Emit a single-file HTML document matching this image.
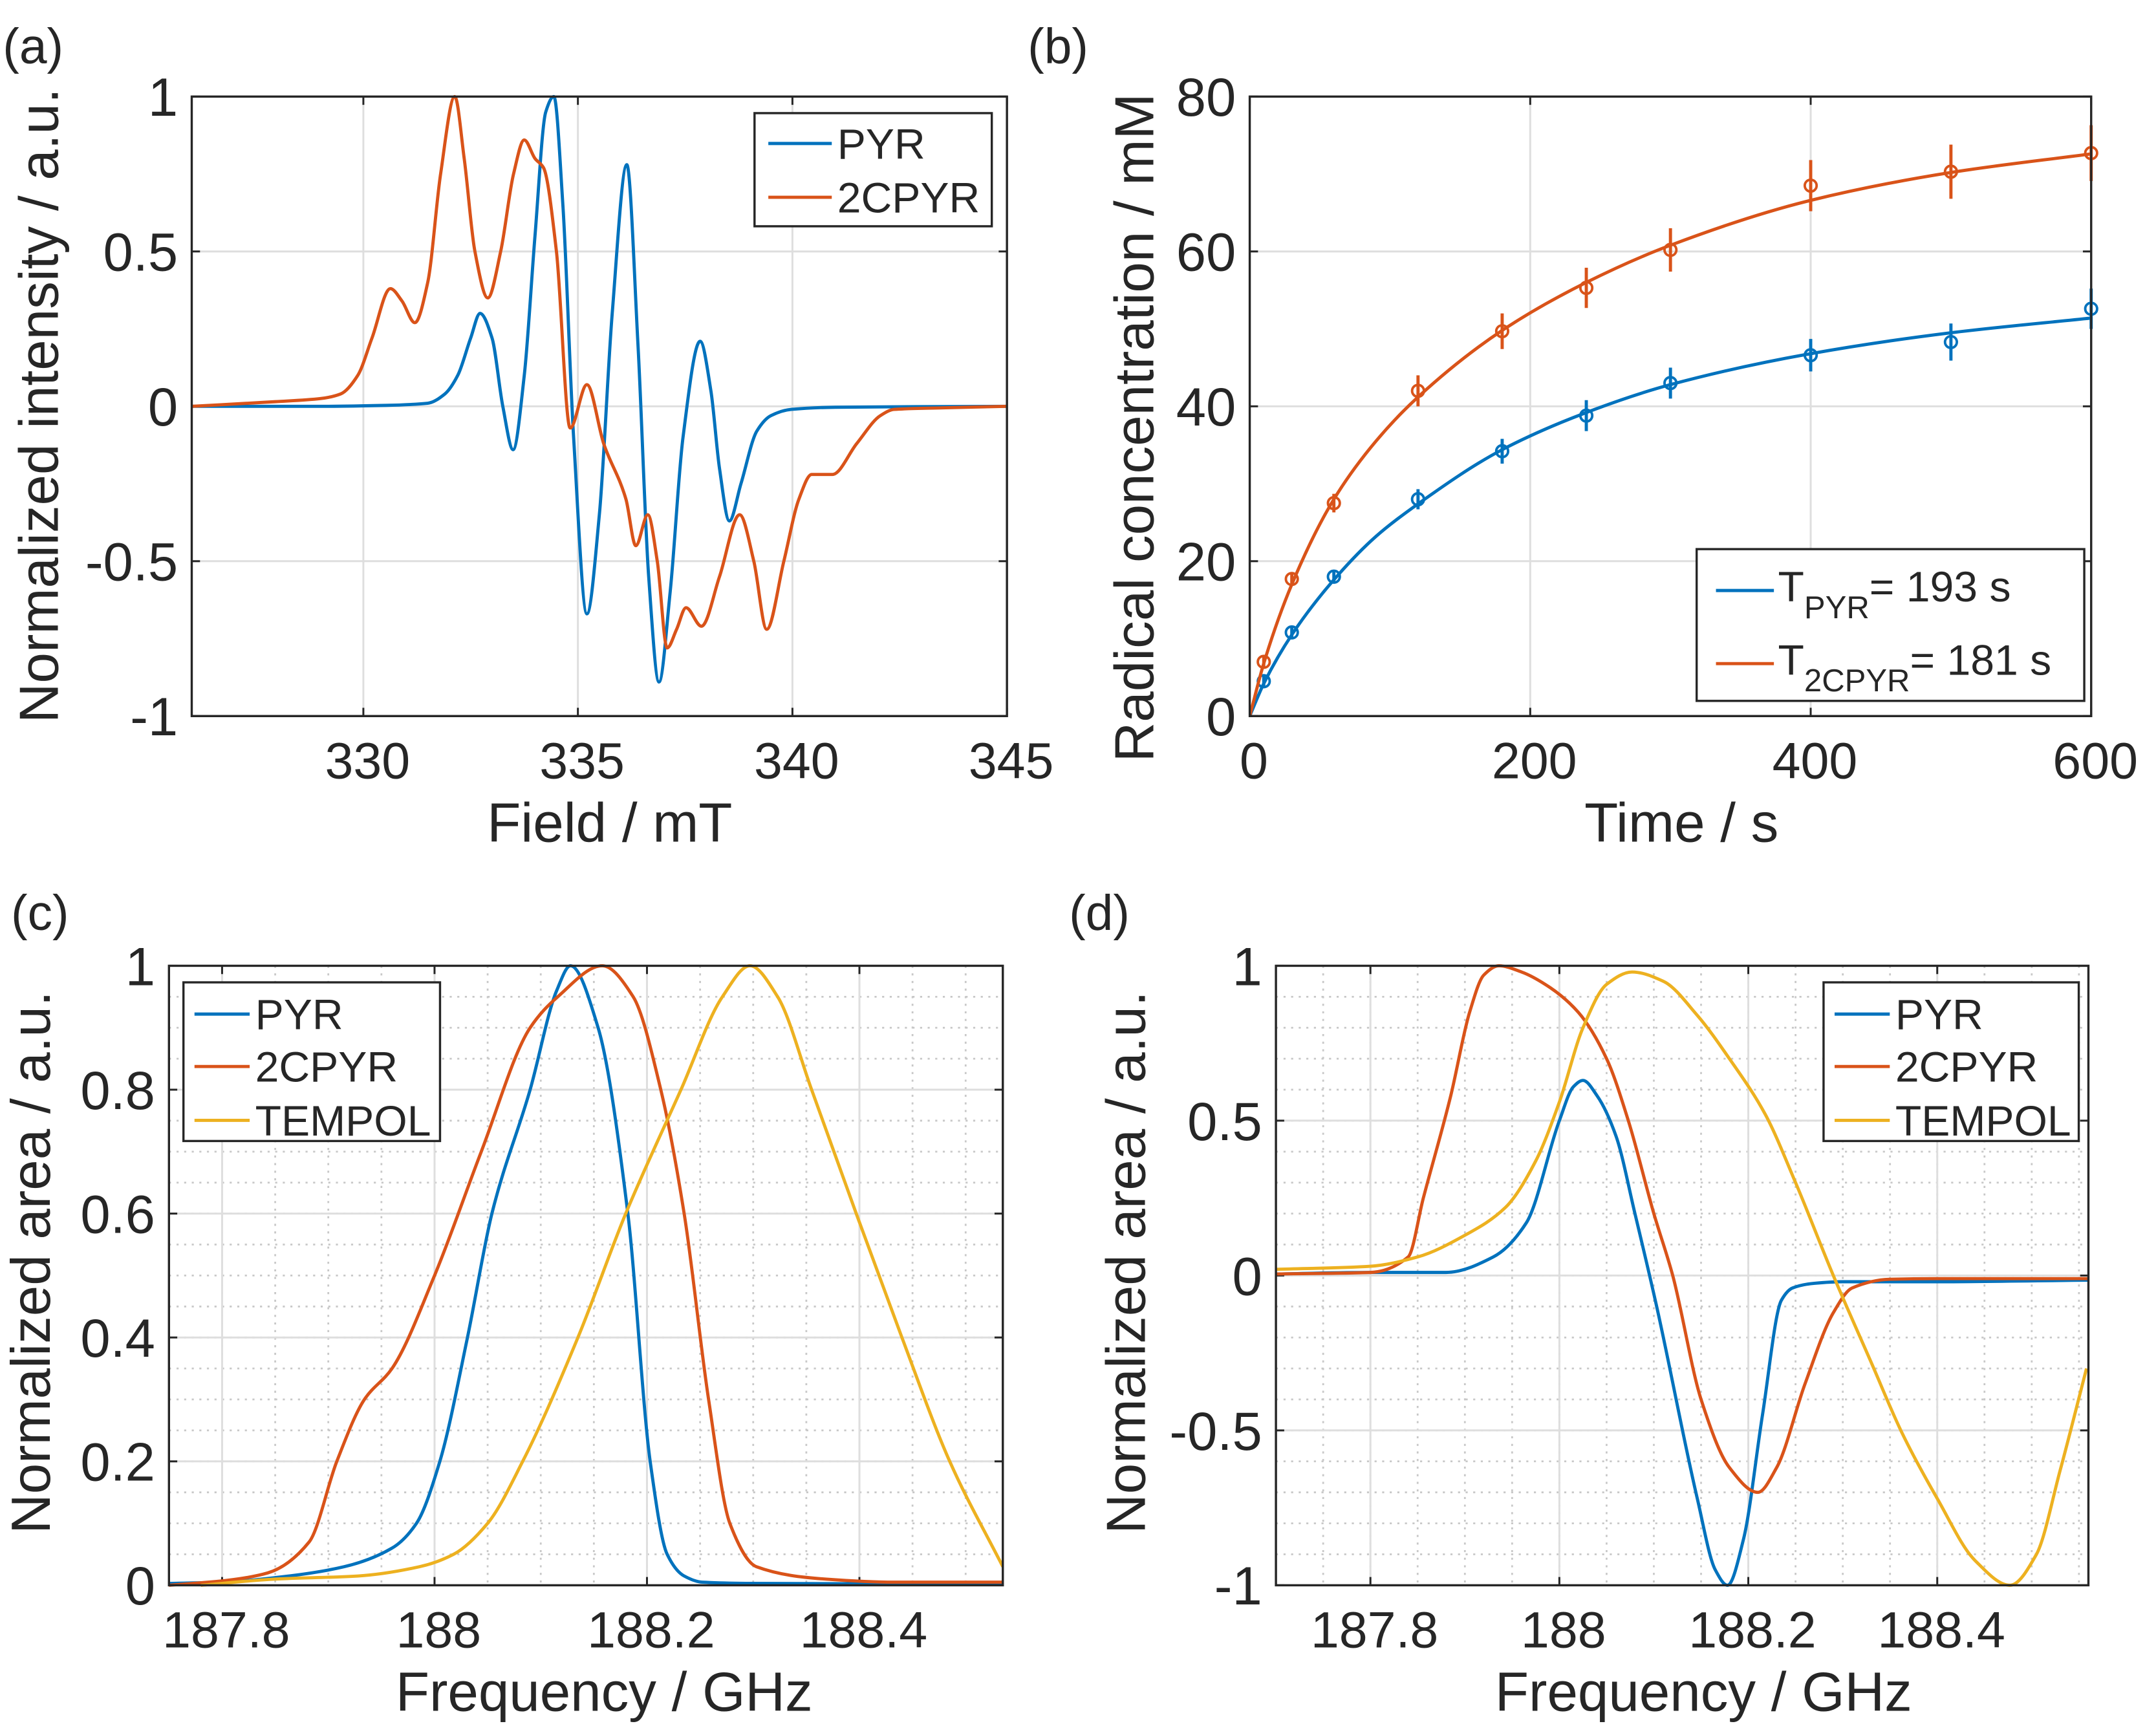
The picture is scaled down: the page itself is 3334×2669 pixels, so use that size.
<!DOCTYPE html>
<html><head><meta charset="utf-8"><style>
html,body{margin:0;padding:0;background:#fff;}
svg{display:block;}
text{font-family:"Liberation Sans",Arial,sans-serif;fill:#262626;}
</style></head><body>
<svg id="fig" xmlns="http://www.w3.org/2000/svg" width="3334" height="2669" viewBox="0 0 1563 1251" preserveAspectRatio="none">
<rect x="0" y="0" width="1563" height="1251" fill="#fff"/>
</svg>
<script>
// ---------- Panel (a) data ----------
const aPyrX = [326,329,330.5,331.5,331.9,332.2,332.5,332.72,333.0,333.25,333.49,333.75,334.0,334.25,334.44,334.65,334.9,335.21,335.5,335.8,336.14,336.4,336.65,336.89,337.15,337.45,337.85,338.1,338.3,338.53,338.8,339.17,339.5,339.97,341,345];
const aPyrY = [0,0,0.003,0.01,0.04,0.1,0.22,0.3,0.22,0.0,-0.14,0.1,0.55,0.95,1.0,0.65,-0.1,-0.67,-0.35,0.3,0.78,0.2,-0.55,-0.89,-0.6,-0.1,0.21,0.05,-0.2,-0.37,-0.25,-0.08,-0.03,-0.01,-0.003,0];
const aCpyX = [326,327.95,329.0,329.47,329.87,330.2,330.63,330.9,331.2,331.5,331.8,332.13,332.35,332.6,332.9,333.2,333.5,333.75,334.0,334.2,334.5,334.82,335.21,335.6,336.12,336.35,336.63,336.85,337.08,337.3,337.52,337.88,338.3,338.77,339.1,339.4,339.8,340.15,340.45,340.93,341.5,342.05,342.37,343.5,345];
const aCpyY = [0,0.015,0.025,0.04,0.1,0.22,0.38,0.34,0.27,0.4,0.75,1.0,0.8,0.5,0.35,0.5,0.75,0.86,0.8,0.77,0.5,-0.07,0.07,-0.12,-0.3,-0.45,-0.35,-0.5,-0.78,-0.72,-0.65,-0.71,-0.55,-0.35,-0.5,-0.72,-0.5,-0.3,-0.22,-0.22,-0.12,-0.03,-0.01,-0.005,0];
const aXTicks = [330,335,340,345];
const aYTicks = [-1,-0.5,0,0.5,1];
const aYTickLabels = ["-1","-0.5","0","0.5","1"];

// ---------- Panel (b) data ----------
const bTime = [10,30,60,120,180,240,300,400,500,600];
const bPyr = [4.5,10.8,18,28,34.2,38.8,43,46.6,48.3,52.6];
const bPyrErr = [0.8,0.8,0.8,1.3,1.6,2,2,2.1,2.4,2.6];
const bCpy = [7,17.7,27.5,42,49.7,55.3,60.2,68.5,70.3,72.7];
const bCpyErr = [0.8,0.8,1.2,2,2.3,2.6,2.8,3.3,3.5,3.6];
const bFitT = [0,10,30,60,90,120,180,240,300,400,500,600];
const bFitPyr = [0,4.2,10.5,17.6,23.2,27.4,34.4,39.2,42.8,46.8,49.5,51.4];
const bFitCpy = [0,6.8,17.0,28.0,35.5,41.2,49.8,56.0,60.8,66.6,70.2,72.6];
const bXTicks = [0,200,400,600];
const bYTicks = [0,20,40,60,80];

// ---------- Panel (c) data ----------
const cPyrX = [187.75,187.8,187.863,187.915,187.96,187.983,188.005,188.031,188.054,188.09,188.115,188.128,188.154,188.182,188.203,188.219,188.235,188.252,188.3,188.535];
const cPyrY = [0.003,0.005,0.015,0.03,0.06,0.1,0.2,0.4,0.6,0.8,0.96,1.0,0.9,0.6,0.2,0.05,0.015,0.005,0.003,0.002];
const cCpyX = [187.75,187.805,187.843,187.882,187.908,187.934,187.96,188.0,188.044,188.09,188.116,188.158,188.187,188.213,188.235,188.258,188.278,188.303,188.368,188.433,188.535];
const cCpyY = [0.0,0.008,0.02,0.07,0.2,0.3,0.35,0.5,0.7,0.9,0.95,1.0,0.95,0.8,0.6,0.3,0.1,0.03,0.01,0.005,0.005];
const cTemX = [187.78,187.85,187.928,187.986,188.018,188.05,188.083,188.135,188.18,188.232,188.271,188.297,188.323,188.355,188.397,188.44,188.485,188.535];
const cTemY = [0.0,0.01,0.015,0.03,0.05,0.1,0.2,0.4,0.6,0.8,0.95,1.0,0.95,0.8,0.6,0.4,0.2,0.03];
const cXTicks = [187.8,188,188.2,188.4];
const cXTickLabels = ["187.8","188","188.2","188.4"];
const cYTicks = [0,0.2,0.4,0.6,0.8,1];
const cYTickLabels = ["0","0.2","0.4","0.6","0.8","1"];

// ---------- Panel (d) data ----------
const dPyrX = [187.7,187.8,187.88,187.93,187.965,188.0,188.015,188.025,188.04,188.06,188.08,188.103,188.146,188.165,188.178,188.195,188.215,188.235,188.247,188.27,188.3,188.4,188.56];
const dPyrY = [0.005,0.01,0.01,0.06,0.17,0.5,0.61,0.63,0.58,0.45,0.2,-0.1,-0.72,-0.95,-1.0,-0.85,-0.45,-0.08,-0.04,-0.025,-0.02,-0.02,-0.015];
const dCpyX = [187.7,187.8,187.84,187.856,187.885,187.905,187.92,187.936,187.96,187.99,188.02,188.05,188.073,188.1,188.12,188.15,188.18,188.21,188.23,188.26,188.29,188.31,188.35,188.4,188.56];
const dCpyY = [0.005,0.01,0.06,0.25,0.58,0.85,0.97,1.0,0.98,0.93,0.85,0.7,0.5,0.2,0.0,-0.4,-0.62,-0.7,-0.62,-0.35,-0.12,-0.04,-0.012,-0.01,-0.01];
const dTemX = [187.7,187.8,187.85,187.9,187.943,187.975,188.0,188.025,188.05,188.077,188.11,188.146,188.18,188.218,188.25,188.29,188.33,188.363,188.4,188.44,188.477,188.505,188.53,188.558];
const dTemY = [0.02,0.03,0.06,0.13,0.22,0.37,0.56,0.8,0.94,0.98,0.95,0.84,0.7,0.52,0.3,0.0,-0.28,-0.51,-0.72,-0.92,-1.0,-0.9,-0.63,-0.3];
const dXTicks = [187.8,188,188.2,188.4];
const dXTickLabels = ["187.8","188","188.2","188.4"];
const dYTicks = [-1,-0.5,0,0.5,1];
const dYTickLabels = ["-1","-0.5","0","0.5","1"];

const BLUE="#0072BD", ORANGE="#D95319", YELLOW="#EDB120";
const NS="http://www.w3.org/2000/svg";
const svg=document.getElementById('fig');

function mk(tag, attrs, parent){
  const e=document.createElementNS(NS,tag);
  for(const k in attrs) e.setAttribute(k,attrs[k]);
  (parent||svg).appendChild(e);
  return e;
}
function scale(d0,d1,r0,r1){return v=>r0+(v-d0)/(d1-d0)*(r1-r0);}
// monotone cubic (Fritsch-Carlson) through pixel points with increasing x
function smoothPath(pts){
  const n=pts.length;
  const dx=[],m=[],t=new Array(n);
  for(let i=0;i<n-1;i++){dx[i]=pts[i+1][0]-pts[i][0];m[i]=(pts[i+1][1]-pts[i][1])/dx[i];}
  t[0]=m[0];t[n-1]=m[n-2];
  for(let i=1;i<n-1;i++){
    if(m[i-1]*m[i]<=0)t[i]=0;
    else{const w1=2*dx[i]+dx[i-1],w2=dx[i]+2*dx[i-1];t[i]=(w1+w2)/(w1/m[i-1]+w2/m[i]);}
  }
  let d="M"+pts[0][0].toFixed(2)+","+pts[0][1].toFixed(2);
  for(let i=0;i<n-1;i++){
    const h=dx[i]/3;
    d+="C"+(pts[i][0]+h).toFixed(2)+","+(pts[i][1]+t[i]*h).toFixed(2)+" "+(pts[i+1][0]-h).toFixed(2)+","+(pts[i+1][1]-t[i+1]*h).toFixed(2)+" "+pts[i+1][0].toFixed(2)+","+pts[i+1][1].toFixed(2);
  }
  return d;
}
function txt(x,y,s,size,anchor,parent){
  const t=mk('text',{x:x,y:y,'font-size':size,'text-anchor':anchor||'middle'},parent);
  t.textContent=s;
  return t;
}

function axesFrame(name,L,R,T,B,xs,ys,xTicks,xLabels,yTicks,yLabels,xMinor,yMinor){
  const g=mk('g',{});
  
  
  if(xMinor){ for(const v of xMinor){const X=xs(v); if(X>L+1&&X<R-1){const l=mk('line',{x1:X,x2:X,y1:T,y2:B,stroke:'#c8c8c8','stroke-width':1.3,'stroke-dasharray':'1.5 4'},g);
    
    }}}
  if(yMinor){ for(const v of yMinor){const Y=ys(v); if(Y>T+1&&Y<B-1){const l=mk('line',{x1:L,x2:R,y1:Y,y2:Y,stroke:'#c8c8c8','stroke-width':1.3,'stroke-dasharray':'1.5 4'},g);
    
    }}}
  xTicks.forEach((v,i)=>{const X=xs(v);
    const gl=mk('line',{x1:X,x2:X,y1:T,y2:B,stroke:'#dedede','stroke-width':1.4},g);
    
    
    mk('line',{x1:X,x2:X,y1:B,y2:B-6,stroke:'#262626','stroke-width':1.4},g);
    mk('line',{x1:X,x2:X,y1:T,y2:T+6,stroke:'#262626','stroke-width':1.4},g);
    const t=txt(X+3,B+45,xLabels[i],37,'middle',g);
    
    
  });
  yTicks.forEach((v,i)=>{const Y=ys(v);
    const gl=mk('line',{x1:L,x2:R,y1:Y,y2:Y,stroke:'#dedede','stroke-width':1.4},g);
    
    
    mk('line',{x1:L,x2:L+6,y1:Y,y2:Y,stroke:'#262626','stroke-width':1.4},g);
    mk('line',{x1:R,x2:R-6,y1:Y,y2:Y,stroke:'#262626','stroke-width':1.4},g);
    const t=txt(L-10,Y+14,yLabels[i],39,'end',g);
    
    
  });
  return g;
}
function border(L,R,T,B){
  const r=mk('rect',{x:L,y:T,width:R-L,height:B-T,fill:'none',stroke:'#262626','stroke-width':1.6});
  
  
}
function series(name,X,Y,xs,ys,color,clip){
  const pts=X.map((v,i)=>[xs(v),ys(Y[i])]);
  const p=mk('path',{d:smoothPath(pts),fill:'none',stroke:color,'stroke-width':2.3,'stroke-linejoin':'round','clip-path':clip?'url(#'+clip+')':''});
  
  
}
function clipRect(id,L,R,T,B){
  const defs=mk('defs',{});
  const c=mk('clipPath',{id:id},defs);
  mk('rect',{x:L,y:T-2,width:R-L,height:B-T+4},c);
}
function legend(name,x,y,w,h,entries,lineX0,lineX1,textX,rowY){
  const g=mk('g',{});
  
  
  mk('rect',{x:x,y:y,width:w,height:h,fill:'#fff',stroke:'#262626','stroke-width':1.6},g);
  entries.forEach((e,i)=>{
    const ln=mk('line',{x1:lineX0,x2:lineX1,y1:rowY[i],y2:rowY[i],stroke:e[1],'stroke-width':2.3},g);
    
    
    const t=txt(textX,rowY[i]+11,e[0],31,'start',g);
    
    
  });
}
function rotLabel(x,y,s,name){
  const t=mk('text',{x:0,y:0,'font-size':40,'text-anchor':'middle',transform:'translate('+x+','+y+') rotate(-90)'});
  t.textContent=s;
  
  
}
function xLabel(x,y,s,name){
  const t=txt(x,y,s,40,'middle');
  
  
}
function panelLabel(x,y,s,name){
  const t=txt(x,y,s,36,'start');
  
  
}
function range(a,b,s){const r=[];for(let v=a;v<=b+1e-9;v+=s)r.push(+v.toFixed(4));return r;}

// ===== Panel (a) =====
{
  const L=139,R=730,T=70,B=519;
  const xs=scale(326,345,L,R), ys=scale(-1,1,B,T);
  axesFrame('panel-a-axes',L,R,T,B,xs,ys,aXTicks,aXTicks.map(String),aYTicks,aYTickLabels);
  clipRect('ca',L,R,T,B);
  series('pyr-spectrum-a',aPyrX,aPyrY,xs,ys,BLUE,'ca');
  series('2cpyr-spectrum-a',aCpyX,aCpyY,xs,ys,ORANGE,'ca');
  border(L,R,T,B);
  legend('legend-a',547,82,172,82,[["PYR",BLUE],["2CPYR",ORANGE]],557,603,607,[104,143]);
  rotLabel(42,294,'Normalized intensity / a.u.','y-axis-title-a');
  xLabel(442,610,'Field / mT','x-axis-title-a');
  panelLabel(2,46,'(a)','panel-label-a');
}
// ===== Panel (b) =====
{
  const L=906,R=1516,T=70,B=519;
  const xs=scale(0,600,L,R), ys=scale(0,80,B,T);
  axesFrame('panel-b-axes',L,R,T,B,xs,ys,bXTicks,bXTicks.map(String),bYTicks,bYTicks.map(String));
  clipRect('cb',L,R,T,B);
  const cols=[BLUE,ORANGE], names=['pyr','2cpyr'];
  [bPyr,bCpy].forEach((vals,k)=>{
    const errs=k===0?bPyrErr:bCpyErr;
    const fv=k===0?bFitPyr:bFitCpy;
    series(names[k]+'-fit-curve',bFitT,fv,xs,ys,cols[k],'cb');
    bTime.forEach((t,i)=>{
      const X=xs(t),Y=ys(vals[i]);
      const eb=mk('line',{x1:X,x2:X,y1:ys(vals[i]-errs[i]),y2:ys(vals[i]+errs[i]),stroke:cols[k],'stroke-width':2.3});
      
      
      const c=mk('circle',{cx:X,cy:Y,r:4.3,fill:'none',stroke:cols[k],'stroke-width':1.8});
      
      
    });
  });
  border(L,R,T,B);
  const g=mk('g',{});
  
  
  mk('rect',{x:1230,y:398,width:281,height:110,fill:'#fff',stroke:'#262626','stroke-width':1.6},g);
  const rows=[[428,'PYR','= 193 s',BLUE],[481,'2CPYR','= 181 s',ORANGE]];
  rows.forEach(r=>{
    const ln=mk('line',{x1:1244,x2:1286,y1:r[0],y2:r[0],stroke:r[3],'stroke-width':2.3},g);
    
    
    const t=mk('text',{x:1289,y:r[0]+8,'font-size':31,'text-anchor':'start'},g);
    
    
    const s1=mk('tspan',{},t); s1.textContent='T';
    const s2=mk('tspan',{dy:12,'font-size':23},t); s2.textContent=r[1];
    const s3=mk('tspan',{dy:-12,'font-size':31},t); s3.textContent=r[2];
  });
  rotLabel(836,310,'Radical concentration / mM','y-axis-title-b');
  xLabel(1219,610,'Time / s','x-axis-title-b');
  panelLabel(745,46,'(b)','panel-label-b');
}
// ===== Panel (c) =====
{
  const L=122.5,R=727,T=700,B=1149;
  const xs=scale(187.75,188.535,L,R), ys=scale(0,1,B,T);
  axesFrame('panel-c-axes',L,R,T,B,xs,ys,cXTicks,cXTickLabels,cYTicks,cYTickLabels,range(187.75,188.55,0.05),range(0,1,0.05));
  clipRect('cc',L,R,T,B);
  series('pyr-curve-c',cPyrX,cPyrY,xs,ys,BLUE,'cc');
  series('2cpyr-curve-c',cCpyX,cCpyY,xs,ys,ORANGE,'cc');
  series('tempol-curve-c',cTemX,cTemY,xs,ys,YELLOW,'cc');
  border(L,R,T,B);
  legend('legend-c',133,712,186,115,[["PYR",BLUE],["2CPYR",ORANGE],["TEMPOL",YELLOW]],141,181,185,[735,773,812]);
  rotLabel(36,915,'Normalized area / a.u.','y-axis-title-c');
  xLabel(438,1240,'Frequency / GHz','x-axis-title-c');
  panelLabel(8,674,'(c)','panel-label-c');
}
// ===== Panel (d) =====
{
  const L=925,R=1514,T=700,B=1149;
  const xs=scale(187.7,188.56,L,R), ys=scale(-1,1,B,T);
  axesFrame('panel-d-axes',L,R,T,B,xs,ys,dXTicks,dXTickLabels,dYTicks,dYTickLabels,range(187.7,188.56,0.05),range(-1,1,0.1));
  clipRect('cd',L,R,T,B);
  series('pyr-curve-d',dPyrX,dPyrY,xs,ys,BLUE,'cd');
  series('2cpyr-curve-d',dCpyX,dCpyY,xs,ys,ORANGE,'cd');
  series('tempol-curve-d',dTemX,dTemY,xs,ys,YELLOW,'cd');
  border(L,R,T,B);
  legend('legend-d',1322,712,185,115,[["PYR",BLUE],["2CPYR",ORANGE],["TEMPOL",YELLOW]],1330,1370,1374,[735,773,812]);
  rotLabel(830,915,'Normalized area / a.u.','y-axis-title-d');
  xLabel(1235,1240,'Frequency / GHz','x-axis-title-d');
  panelLabel(775,674,'(d)','panel-label-d');
}
</script>
</body></html>
